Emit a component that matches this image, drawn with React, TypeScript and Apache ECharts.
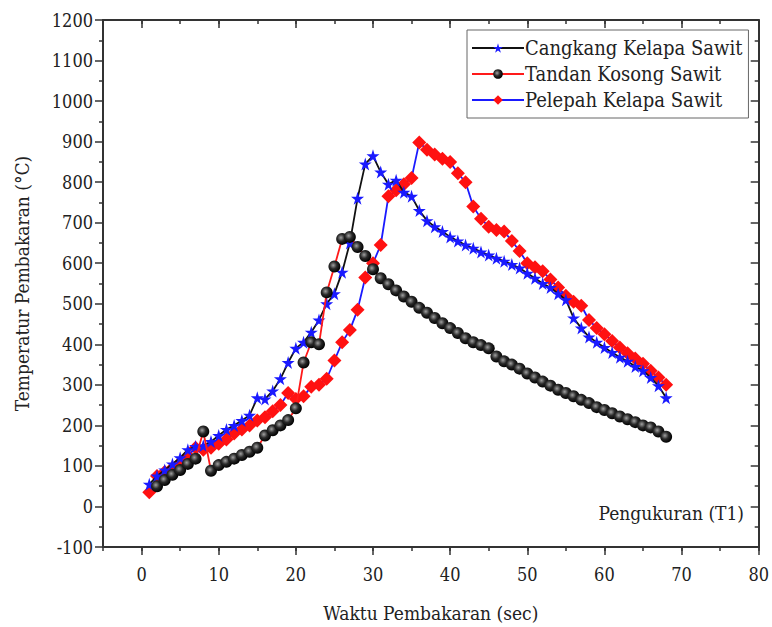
import React, { useEffect, useRef } from "react";
import * as echarts from "echarts";

const timeCangkang = [1,2,3,4,5,6,7,8,9,10,11,12,13,14,15,16,17,18,19,20,21,22,23,24,25,26,27,28,29,30,31,32,33,34,35,36,37,38,39,40,41,42,43,44,45,46,47,48,49,50,51,52,53,54,55,56,57,58,59,60,61,62,63,64,65,66,67,68];
const tempCangkang = [55,75,90,105,120,140,148,150,160,175,190,200,212,225,268,265,285,315,355,390,405,430,460,500,525,578,650,760,845,865,825,795,805,775,765,730,705,690,678,665,655,645,637,628,620,612,605,597,588,575,563,550,540,525,510,465,440,418,405,392,380,368,358,345,335,318,298,268];

const timeTandan = [2,3,4,5,6,7,8,9,10,11,12,13,14,15,16,17,18,19,20,21,22,23,24,25,26,27,28,29,30,31,32,33,34,35,36,37,38,39,40,41,42,43,44,45,46,47,48,49,50,51,52,53,54,55,56,57,58,59,60,61,62,63,64,65,66,67,68];
const tempTandan = [50,65,78,90,105,118,185,88,102,110,118,127,135,145,175,188,200,213,242,355,405,400,528,592,660,665,640,618,585,563,548,533,518,505,490,478,465,452,440,428,415,405,398,390,370,358,350,340,328,318,308,298,288,280,272,263,255,245,238,230,222,215,208,200,195,185,172];

const timePelepah = [1,2,3,4,5,6,7,8,9,10,11,12,13,14,15,16,17,18,19,20,21,22,23,24,25,26,27,28,29,30,31,32,33,34,35,36,37,38,39,40,41,42,43,44,45,46,47,48,49,50,51,52,53,54,55,56,57,58,59,60,61,62,63,64,65,66,67,68];
const tempPelepah = [35,75,85,95,108,125,145,140,145,155,165,180,190,200,212,220,235,250,280,265,272,295,300,315,360,405,435,485,565,600,645,765,780,795,810,898,880,868,858,850,822,800,740,710,690,682,678,655,630,600,590,580,560,540,520,505,495,460,440,425,408,392,378,365,352,335,318,300];

const seriesNames = ["Cangkang Kelapa Sawit", "Tandan Kosong Sawit", "Pelepah Kelapa Sawit"];
const xMajorTicks = [0, 10, 20, 30, 40, 50, 60, 70, 80];

const FONT = "'DejaVu Serif Condensed', 'DejaVu Serif'";

const starPath =
  "path://M50,0 L61,35 L98,35 L68,57 L79,91 L50,70 L21,91 L32,57 L2,35 L39,35 Z";

export default function App() {
  const ref = useRef<HTMLDivElement>(null);
  useEffect(() => {
    if (!ref.current) return;
    const chart = echarts.init(ref.current, null, { renderer: "svg" });
    const pair = (t: number[], v: number[]) => t.map((x, i) => [x, v[i]]);
    const axisColor = "#333";
    const sphere = new echarts.graphic.RadialGradient(0.4, 0.4, 0.6, [
      { offset: 0, color: "#a0a0a0" },
      { offset: 0.5, color: "#2a2a2a" },
      { offset: 1, color: "#000" },
    ]);
    const option: any = {
      animation: false,
      backgroundColor: "#fff",
      textStyle: { fontFamily: FONT },
      grid: { left: 103, right: 12, top: 20, bottom: 77, containLabel: false },
      legend: {
        orient: "vertical",
        left: 467,
        top: 30,
        itemWidth: 52,
        itemHeight: 12,
        itemGap: 6,
        padding: [8, 6, 8, 4],
        borderColor: "#666",
        borderWidth: 1,
        textStyle: { fontFamily: FONT, fontSize: 20, color: "#222", padding: [0, 0, 0, -4] },
        data: seriesNames,
      },
      xAxis: [
        {
          type: "value",
          position: "bottom",
          min: -5,
          max: 80,
          interval: 5,
          axisLine: { show: true, onZero: false, lineStyle: { color: axisColor, width: 2 } },
          axisTick: { show: true, length: 4, lineStyle: { color: axisColor, width: 1.5 } },
          axisLabel: { show: false },
          splitLine: { show: false },
          name: "Waktu Pembakaran (sec)",
          nameLocation: "middle",
          nameGap: 56,
          nameTextStyle: { fontFamily: FONT, fontSize: 19, color: "#222" },
        },
        {
          type: "value",
          position: "bottom",
          min: -5,
          max: 80,
          axisLine: { show: false, onZero: false },
          axisTick: { show: true, length: 8, customValues: xMajorTicks, lineStyle: { color: axisColor, width: 1.5 } },
          axisLabel: {
            show: true,
            customValues: xMajorTicks,
            margin: 18,
            fontFamily: FONT,
            fontSize: 18,
            color: "#222",
          },
          splitLine: { show: false },
        },
        {
          type: "value",
          position: "top",
          min: -5,
          max: 80,
          interval: 5,
          axisLine: { show: true, onZero: false, lineStyle: { color: axisColor, width: 2 } },
          axisTick: { show: true, inside: true, length: 4, lineStyle: { color: axisColor, width: 1.5 } },
          axisLabel: { show: false },
          splitLine: { show: false },
        },
        {
          type: "value",
          position: "top",
          min: -5,
          max: 80,
          axisLine: { show: false, onZero: false },
          axisTick: { show: true, inside: true, length: 8, customValues: xMajorTicks, lineStyle: { color: axisColor, width: 1.5 } },
          axisLabel: { show: false },
          splitLine: { show: false },
        },
      ],
      yAxis: [
        {
          type: "value",
          position: "left",
          min: -100,
          max: 1200,
          interval: 100,
          axisLine: { show: true, onZero: false, lineStyle: { color: axisColor, width: 2 } },
          axisTick: { show: true, length: 8, lineStyle: { color: axisColor, width: 1.5 } },
          minorTick: { show: true, splitNumber: 2, length: 4, lineStyle: { color: axisColor, width: 1.5 } },
          axisLabel: {
            margin: 10,
            fontFamily: FONT,
            fontSize: 18,
            color: "#222",
            formatter: (v: number) => String(v),
          },
          splitLine: { show: false },
          name: "Temperatur Pembakaran (\u00B0C)",
          nameLocation: "middle",
          nameRotate: 90,
          nameGap: 72,
          nameTextStyle: { fontFamily: FONT, fontSize: 19, color: "#222" },
        },
        {
          type: "value",
          position: "right",
          min: -100,
          max: 1200,
          interval: 100,
          axisLine: { show: true, onZero: false, lineStyle: { color: axisColor, width: 2 } },
          axisTick: { show: true, inside: true, length: 8, lineStyle: { color: axisColor, width: 1.5 } },
          minorTick: { show: true, splitNumber: 2, length: 4, lineStyle: { color: axisColor, width: 1.5 } },
          axisLabel: { show: false },
          splitLine: { show: false },
        },
      ],
      graphic: [
        {
          type: "text",
          right: 28,
          top: 503,
          style: { text: "Pengukuran (T1)", fontFamily: FONT, fontSize: 19, fill: "#222" },
        },
      ],
      series: [
        {
          name: seriesNames[0],
          type: "line",
          data: pair(timeCangkang, tempCangkang),
          symbol: starPath,
          symbolSize: 13,
          showAllSymbol: true,
          lineStyle: { color: "#111", width: 1.8 },
          itemStyle: { color: "#1a1aff" },
          z: 3,
        },
        {
          name: seriesNames[1],
          type: "line",
          data: pair(timeTandan, tempTandan),
          symbol: "circle",
          symbolSize: 12,
          showAllSymbol: true,
          lineStyle: { color: "#ff1a1a", width: 1.8 },
          itemStyle: { color: sphere },
          z: 4,
        },
        {
          name: seriesNames[2],
          type: "line",
          data: pair(timePelepah, tempPelepah),
          symbol: "diamond",
          symbolSize: 14,
          showAllSymbol: true,
          lineStyle: { color: "#1a1aff", width: 1.8 },
          itemStyle: { color: "#ff1111" },
          z: 2,
        },
      ],
    };
    chart.setOption(option);
    return () => chart.dispose();
  }, []);
  return (
    <div
      ref={ref}
      style={{ position: "absolute", left: 0, top: 0, width: 772, height: 627 }}
    />
  );
}
